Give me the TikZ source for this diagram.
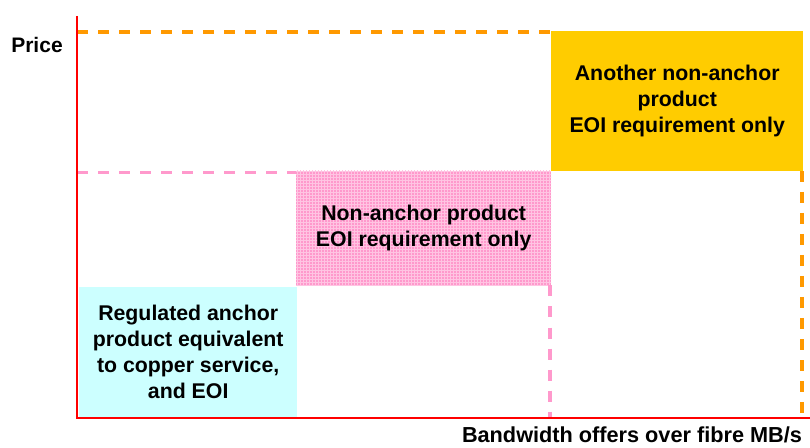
\documentclass[tikz,border=0pt]{standalone}
\usepackage{fontspec}
\setmainfont{Liberation Sans}
\usepackage{tikz}
\usetikzlibrary{patterns}
\definecolor{axisred}{HTML}{FF0000}
\definecolor{dashorange}{HTML}{FF9900}
\definecolor{dashpink}{HTML}{FF99CC}
\definecolor{anchorcyan}{HTML}{CCFFFF}
\definecolor{otheryellow}{HTML}{FFCC00}
\definecolor{gridpink}{HTML}{FFC4E2}

\begin{document}
\begin{tikzpicture}[x=1pt,y=1pt,
  labeltext/.style={font=\fontsize{21.3}{25.8}\selectfont\bfseries, align=center},
  productbox/.style={labeltext, inner sep=0pt, anchor=south west},
  levelline/.style={dash pattern=on 11pt off 10pt, line width=3.2pt}
]
\useasboundingbox (0,0) rectangle (810,447);

% axes
\coordinate (origin) at (77,29);
\coordinate (ytop) at (77,431);
\coordinate (xend) at (810,29);
\coordinate (orangelevel) at (77,415);
\coordinate (pinklevel) at (77,274.5);

% product boxes
\node[productbox, fill=anchorcyan, minimum width=218pt, minimum height=130pt] (anchorbox) at (79,30)
  {Regulated anchor\\product equivalent\\ to copper service,\\and EOI};
\node[productbox, fill=dashpink, postaction={pattern=grid, pattern color=gridpink},
  minimum width=255pt, minimum height=114.5pt] (pinkbox) at (296,161.5)
  {Non-anchor product\\EOI requirement only};
\node[productbox, fill=otheryellow, minimum width=252pt, minimum height=140pt] (yellowbox) at (551,276)
  {Another non-anchor\\product\\EOI requirement only};

% price levels
\draw[levelline, dashorange] (orangelevel) -- (orangelevel -| yellowbox.north west);
\draw[levelline, dashorange] ([xshift=-1.5pt]yellowbox.south east) -- ([xshift=-1.5pt]yellowbox.south east |- origin);
\draw[levelline, dashpink] (pinklevel) -- (pinklevel -| pinkbox.west);
\draw[levelline, dashpink] ([xshift=-1.5pt]pinkbox.south east) -- ([xshift=-1.5pt]pinkbox.south east |- origin);

\draw[axisred, line width=2.6pt] (ytop) -- (origin) -- (xend);

\node[labeltext, font=\fontsize{21}{25}\selectfont\bfseries, inner sep=0pt] (pricelabel) at (37,402) {Price};
\node[labeltext, font=\fontsize{21.7}{26}\selectfont\bfseries, inner sep=0pt, anchor=base] (bandwidthlabel) at (632,4.5) {Bandwidth offers over fibre MB/s};
\end{tikzpicture}
\end{document}
